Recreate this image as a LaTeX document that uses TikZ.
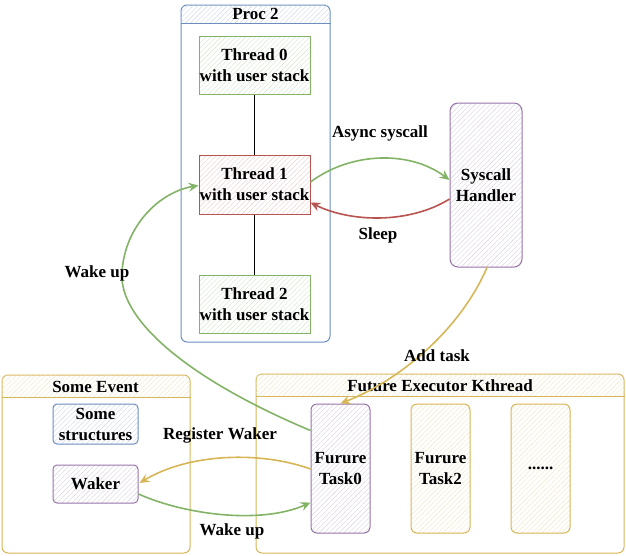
\documentclass[tikz,border=0pt]{standalone}
\usepackage{fontspec}
\setmainfont{Liberation Serif}
\usetikzlibrary{patterns.meta,arrows.meta}
\definecolor{blueline}{HTML}{6C8EBF}
\definecolor{greenline}{HTML}{82B366}
\definecolor{redline}{HTML}{B85450}
\definecolor{purpleline}{HTML}{9673A6}
\definecolor{yellowline}{HTML}{D6B656}
\colorlet{bluehatch}{blueline!35!white}
\colorlet{greenhatch}{greenline!35!white}
\colorlet{redhatch}{redline!30!white}
\colorlet{purplehatch}{purpleline!35!white}
\colorlet{yellowhatch}{yellowline!35!white}

\begin{document}
\begin{tikzpicture}[x=1pt,y=-1pt,
    font=\bfseries\fontsize{17}{21}\selectfont,
    every node/.style={align=center,inner sep=0pt},
    hatch/.style={pattern={Lines[angle=45,distance=3.5pt,line width=0.4pt]},pattern color=#1hatch},
    frame/.style={draw=#1line,line width=1pt,rounded corners=6pt},
    box/.style={draw=#1line,line width=1pt,hatch=#1},
    arr/.style={draw=#1line,line width=1.6pt,-{Stealth[length=10pt,width=9pt,inset=3.5pt]}}]
    \useasboundingbox (0,0) rectangle (626,555);
    \node[frame=blue,minimum width=149,minimum height=337] (proc) at (255.5,173.5) {};
    \node[frame=yellow,minimum width=188,minimum height=178] (event) at (96,464) {};
    \node[frame=yellow,minimum width=368,minimum height=179] (exec) at (440,463.5) {};
    \foreach \c/\h/\col in {proc/19/blue,event/23/yellow,exec/23/yellow} {
        \begin{scope}
            \clip[rounded corners=6pt] (\c.south west) rectangle (\c.north east);
            \fill[hatch=\col] (\c.north west) rectangle ([yshift=-\h pt]\c.north east);
        \end{scope}
        \draw[\col line,line width=1pt] ([yshift=-\h pt]\c.north west) -- ([yshift=-\h pt]\c.north east);
    }
    \node (proctitle) at (255.5,14) {Proc 2};
    \node (eventtitle) at (95.5,387) {Some Event};
    \node (exectitle) at (440,386) {Future Executor Kthread};

    \node[box=green,minimum width=111,minimum height=58] (t0) at (254.5,65) {Thread 0\\with user stack};
    \node[box=red,minimum width=111,minimum height=59] (t1) at (254.5,184.5) {Thread 1\\with user stack};
    \node[box=green,minimum width=111,minimum height=58] (t2) at (254.5,304) {Thread 2\\with user stack};
    \draw[line width=0.8pt] (t0) -- (t1) -- (t2);

    \node[box=purple,rounded corners=8pt,minimum width=72,minimum height=164] (sys) at (486,185) {Syscall\\Handler};

    \node[box=blue,rounded corners=4pt,minimum width=85,minimum height=40] (structs) at (95.5,424) {Some\\structures};
    \node[box=purple,rounded corners=4pt,minimum width=85,minimum height=38] (waker) at (95.5,484) {Waker};

    \node[box=purple,rounded corners=6pt,minimum width=59,minimum height=129] (task0) at (340.5,468.5) {Furure\\Task0};
    \node[box=yellow,rounded corners=6pt,minimum width=59,minimum height=129] (task2) at (440.5,468.5) {Furure\\Task2};
    \node[box=yellow,rounded corners=6pt,minimum width=59,minimum height=129] (taskmore) at (540.5,468.5) {......};

    \draw[arr=green] ([yshift=2.5pt]t1.east) .. controls +(40,-30) and +(-40,-30) .. ([yshift=5pt]sys.west);
    \draw[arr=red] ([yshift=-14pt]sys.west) .. controls +(-40,25) and +(40,20) .. ([yshift=-18pt]t1.east);
    \draw[arr=green] ([yshift=38pt]task0.west) .. controls (190,380) and (118,320) .. (122,272)
        .. controls (125,225) and (160,192) .. ([yshift=-1pt]t1.west);
    \draw[arr=yellow] ([xshift=1pt]sys.south) .. controls (460,330) and (400,380) .. (task0.north);
    \draw[arr=yellow] ([yshift=-0.5pt]task0.west) .. controls +(-50,-18) and +(50,-30) .. ([xshift=1pt,yshift=1pt]waker.east);
    \draw[arr=green] ([yshift=-10pt]waker.east) .. controls +(47,21) and +(-49,22) .. ([yshift=-34pt]task0.west);

    \node (asynclbl) at (380,133) {Async syscall};
    \node (sleeplbl) at (378,235) {Sleep};
    \node (wakelbl) at (97,273) {Wake up};
    \node (addlbl) at (437,356) {Add task};
    \node (reglbl) at (220,435) {Register Waker};
    \node (wake2lbl) at (232,531) {Wake up};
\end{tikzpicture}
\end{document}
